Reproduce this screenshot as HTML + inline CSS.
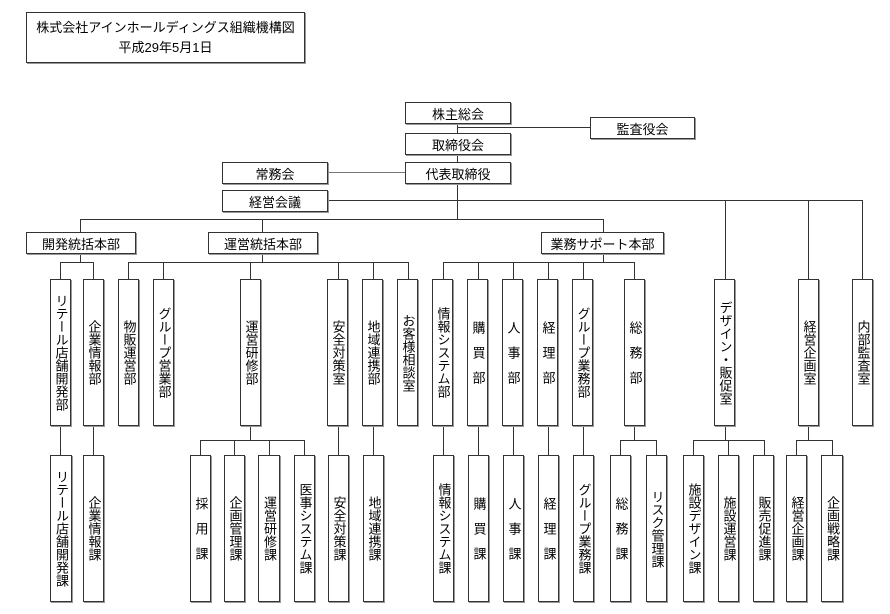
<!DOCTYPE html>
<html><head><meta charset="utf-8"><style>
body{margin:0;width:890px;height:614px;background:#fff;position:relative;overflow:hidden;font-family:"Liberation Sans","Noto Sans CJK JP",sans-serif;color:#000}
.b{position:absolute;border:1px solid #333;box-shadow:1px 1px 0 #999;box-sizing:border-box;display:flex;align-items:center;justify-content:center;font-size:13px;background:#fff}
.v span{writing-mode:vertical-rl;text-orientation:upright;line-height:13px;display:block;width:13px;margin-left:1px}
.l{position:absolute;background:#333}
</style></head><body>
<div class="b" style="left:26px;top:12px;width:279px;height:51px;flex-direction:column;line-height:20px"><div>株式会社アインホールディングス組織機構図</div><div>平成29年5月1日</div></div>

<!-- lines -->
<div class="l" style="left:457px;top:123px;width:1px;height:10px"></div>
<div class="l" style="left:457px;top:154px;width:1px;height:8px"></div>
<div class="l" style="left:457px;top:183px;width:1px;height:36px"></div>
<div class="l" style="left:457px;top:127px;width:133px;height:1px"></div>
<div class="l" style="left:327px;top:172px;width:78px;height:1px;background:#777"></div>
<div class="l" style="left:327px;top:200px;width:536px;height:1px"></div>
<div class="l" style="left:725px;top:200px;width:1px;height:79px"></div>
<div class="l" style="left:808px;top:200px;width:1px;height:79px"></div>
<div class="l" style="left:862px;top:200px;width:1px;height:79px"></div>
<div class="l" style="left:80px;top:219px;width:524px;height:1px"></div>
<div class="l" style="left:80px;top:219px;width:1px;height:13px"></div>
<div class="l" style="left:262px;top:219px;width:1px;height:13px"></div>
<div class="l" style="left:603px;top:219px;width:1px;height:13px"></div>

<div class="l" style="left:80px;top:253px;width:1px;height:9px"></div>
<div class="l" style="left:60px;top:262px;width:34px;height:1px"></div>
<div class="l" style="left:262px;top:253px;width:1px;height:9px"></div>
<div class="l" style="left:128px;top:262px;width:281px;height:1px"></div>
<div class="l" style="left:603px;top:253px;width:1px;height:9px"></div>
<div class="l" style="left:443px;top:262px;width:192px;height:1px"></div>
<!-- drops to dept row -->
<div class="l" style="left:60px;top:262px;width:1px;height:17px"></div>
<div class="l" style="left:93px;top:262px;width:1px;height:17px"></div>
<div class="l" style="left:128px;top:262px;width:1px;height:17px"></div>
<div class="l" style="left:163px;top:262px;width:1px;height:17px"></div>
<div class="l" style="left:250px;top:262px;width:1px;height:17px"></div>
<div class="l" style="left:338px;top:262px;width:1px;height:17px"></div>
<div class="l" style="left:373px;top:262px;width:1px;height:17px"></div>
<div class="l" style="left:408px;top:262px;width:1px;height:17px"></div>
<div class="l" style="left:443px;top:262px;width:1px;height:17px"></div>
<div class="l" style="left:478px;top:262px;width:1px;height:17px"></div>
<div class="l" style="left:513px;top:262px;width:1px;height:17px"></div>
<div class="l" style="left:548px;top:262px;width:1px;height:17px"></div>
<div class="l" style="left:583px;top:262px;width:1px;height:17px"></div>
<div class="l" style="left:634px;top:262px;width:1px;height:17px"></div>
<!-- lower connections -->
<div class="l" style="left:60px;top:426px;width:1px;height:29px"></div>
<div class="l" style="left:93px;top:426px;width:1px;height:29px"></div>
<div class="l" style="left:250px;top:426px;width:1px;height:14px"></div>
<div class="l" style="left:200px;top:440px;width:105px;height:1px"></div>
<div class="l" style="left:200px;top:440px;width:1px;height:15px"></div>
<div class="l" style="left:234px;top:440px;width:1px;height:15px"></div>
<div class="l" style="left:269px;top:440px;width:1px;height:15px"></div>
<div class="l" style="left:304px;top:440px;width:1px;height:15px"></div>
<div class="l" style="left:338px;top:426px;width:1px;height:29px"></div>
<div class="l" style="left:373px;top:426px;width:1px;height:29px"></div>
<div class="l" style="left:443px;top:426px;width:1px;height:29px"></div>
<div class="l" style="left:478px;top:426px;width:1px;height:29px"></div>
<div class="l" style="left:513px;top:426px;width:1px;height:29px"></div>
<div class="l" style="left:548px;top:426px;width:1px;height:29px"></div>
<div class="l" style="left:583px;top:426px;width:1px;height:29px"></div>
<div class="l" style="left:634px;top:426px;width:1px;height:14px"></div>
<div class="l" style="left:620px;top:440px;width:37px;height:1px"></div>
<div class="l" style="left:620px;top:440px;width:1px;height:15px"></div>
<div class="l" style="left:656px;top:440px;width:1px;height:15px"></div>
<div class="l" style="left:725px;top:426px;width:1px;height:14px"></div>
<div class="l" style="left:693px;top:440px;width:72px;height:1px"></div>
<div class="l" style="left:693px;top:440px;width:1px;height:15px"></div>
<div class="l" style="left:728px;top:440px;width:1px;height:15px"></div>
<div class="l" style="left:764px;top:440px;width:1px;height:15px"></div>
<div class="l" style="left:808px;top:426px;width:1px;height:14px"></div>
<div class="l" style="left:796px;top:440px;width:37px;height:1px"></div>
<div class="l" style="left:796px;top:440px;width:1px;height:15px"></div>
<div class="l" style="left:832px;top:440px;width:1px;height:15px"></div>

<!-- top boxes -->
<div class="b" style="left:405px;top:102px;width:106px;height:22px">株主総会</div>
<div class="b" style="left:590px;top:117px;width:105px;height:22px">監査役会</div>
<div class="b" style="left:405px;top:133px;width:106px;height:22px">取締役会</div>
<div class="b" style="left:222px;top:162px;width:106px;height:22px">常務会</div>
<div class="b" style="left:405px;top:162px;width:106px;height:22px">代表取締役</div>
<div class="b" style="left:222px;top:190px;width:106px;height:22px">経営会議</div>
<div class="b" style="left:26px;top:232px;width:110px;height:22px">開発統括本部</div>
<div class="b" style="left:208px;top:232px;width:110px;height:22px">運営統括本部</div>
<div class="b" style="left:541px;top:232px;width:123px;height:22px">業務サポート本部</div>

<!-- dept row -->
<div class="b v" style="left:50px;top:279px;width:21px;height:147px"><span>リテール店舗開発部</span></div>
<div class="b v" style="left:83px;top:279px;width:21px;height:147px"><span>企業情報部</span></div>
<div class="b v" style="left:118px;top:279px;width:21px;height:147px"><span>物販運営部</span></div>
<div class="b v" style="left:153px;top:279px;width:21px;height:147px"><span>グループ営業部</span></div>
<div class="b v" style="left:240px;top:279px;width:21px;height:147px"><span>運営研修部</span></div>
<div class="b v" style="left:327px;top:279px;width:21px;height:147px"><span>安全対策室</span></div>
<div class="b v" style="left:362px;top:279px;width:21px;height:147px"><span>地域連携部</span></div>
<div class="b v" style="left:397px;top:279px;width:21px;height:147px"><span>お客様相談室</span></div>
<div class="b v" style="left:432px;top:279px;width:21px;height:147px"><span>情報システム部</span></div>
<div class="b v" style="left:467px;top:279px;width:21px;height:147px"><span style="letter-spacing:12px;margin-bottom:-12px">購買部</span></div>
<div class="b v" style="left:502px;top:279px;width:21px;height:147px"><span style="letter-spacing:12px;margin-bottom:-12px">人事部</span></div>
<div class="b v" style="left:537px;top:279px;width:21px;height:147px"><span style="letter-spacing:12px;margin-bottom:-12px">経理部</span></div>
<div class="b v" style="left:572px;top:279px;width:21px;height:147px"><span>グループ業務部</span></div>
<div class="b v" style="left:624px;top:279px;width:21px;height:147px"><span style="letter-spacing:12px;margin-bottom:-12px">総務部</span></div>
<div class="b v" style="left:714px;top:279px;width:21px;height:147px"><span>デザイン・販促室</span></div>
<div class="b v" style="left:798px;top:279px;width:21px;height:147px"><span>経営企画室</span></div>
<div class="b v" style="left:852px;top:279px;width:21px;height:147px"><span>内部監査室</span></div>

<!-- bottom row -->
<div class="b v" style="left:50px;top:455px;width:22px;height:147px"><span>リテール店舗開発課</span></div>
<div class="b v" style="left:83px;top:455px;width:21px;height:147px"><span>企業情報課</span></div>
<div class="b v" style="left:190px;top:455px;width:21px;height:147px"><span style="letter-spacing:12px;margin-bottom:-12px">採用課</span></div>
<div class="b v" style="left:224px;top:455px;width:21px;height:147px"><span>企画管理課</span></div>
<div class="b v" style="left:258px;top:455px;width:22px;height:147px"><span>運営研修課</span></div>
<div class="b v" style="left:294px;top:455px;width:21px;height:147px"><span>医事システム課</span></div>
<div class="b v" style="left:328px;top:455px;width:21px;height:147px"><span>安全対策課</span></div>
<div class="b v" style="left:363px;top:455px;width:21px;height:147px"><span>地域連携課</span></div>
<div class="b v" style="left:433px;top:455px;width:21px;height:147px"><span>情報システム課</span></div>
<div class="b v" style="left:468px;top:455px;width:21px;height:147px"><span style="letter-spacing:12px;margin-bottom:-12px">購買課</span></div>
<div class="b v" style="left:503px;top:455px;width:21px;height:147px"><span style="letter-spacing:12px;margin-bottom:-12px">人事課</span></div>
<div class="b v" style="left:538px;top:455px;width:21px;height:147px"><span style="letter-spacing:12px;margin-bottom:-12px">経理課</span></div>
<div class="b v" style="left:573px;top:455px;width:21px;height:147px"><span>グループ業務課</span></div>
<div class="b v" style="left:610px;top:455px;width:21px;height:147px"><span style="letter-spacing:12px;margin-bottom:-12px">総務課</span></div>
<div class="b v" style="left:646px;top:455px;width:21px;height:147px"><span>リスク管理課</span></div>
<div class="b v" style="left:683px;top:455px;width:21px;height:147px"><span>施設デザイン課</span></div>
<div class="b v" style="left:718px;top:455px;width:21px;height:147px"><span>施設運営課</span></div>
<div class="b v" style="left:753px;top:455px;width:21px;height:147px"><span>販売促進課</span></div>
<div class="b v" style="left:786px;top:455px;width:21px;height:147px"><span>経営企画課</span></div>
<div class="b v" style="left:821px;top:455px;width:22px;height:147px"><span>企画戦略課</span></div>
</body></html>
